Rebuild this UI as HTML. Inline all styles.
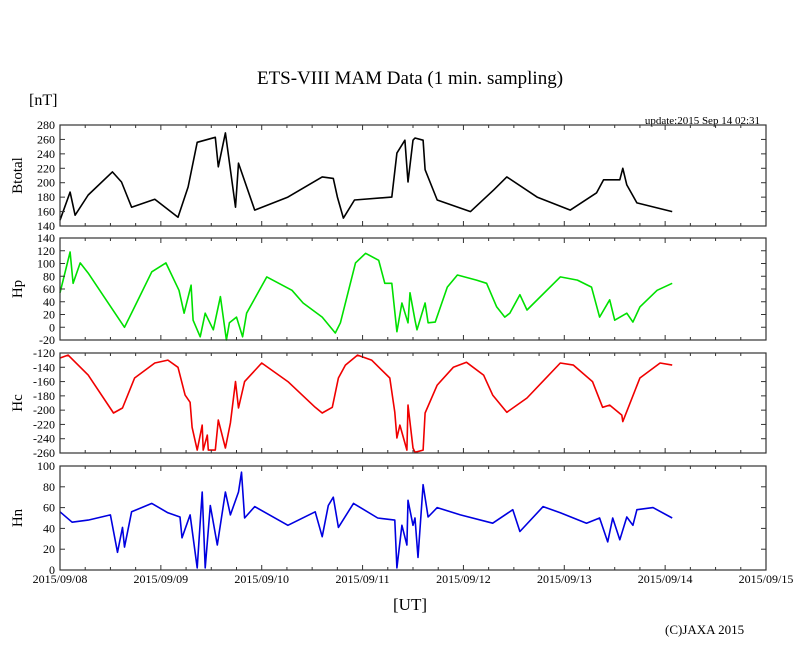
<!DOCTYPE html>
<html><head><meta charset="utf-8"><style>
html,body{margin:0;padding:0;background:#fff}
svg{display:block;font-family:"Liberation Serif",serif}
</style></head><body>
<svg id="chart" width="810" height="655" viewBox="0 0 810 655" xmlns="http://www.w3.org/2000/svg">
<text x="410" y="84" font-size="19" text-anchor="middle">ETS-VIII MAM Data (1 min. sampling)</text>
<text x="29" y="105" font-size="16">[nT]</text>
<text x="760" y="124" font-size="11" text-anchor="end">update:2015 Sep 14 02:31</text>
<text x="410" y="610" font-size="17" text-anchor="middle">[UT]</text>
<text x="665" y="634" font-size="13">(C)JAXA 2015</text>
<g id="plots"></g>
</svg>
<script>
const xDays = [0,1,2,3,4,5,6,7];
const xTickLabels = ["2015/09/08","2015/09/09","2015/09/10","2015/09/11","2015/09/12","2015/09/13","2015/09/14","2015/09/15"];

const btotalDays = [0,.1,.15,.28,.52,.61,.71,.94,1.17,1.27,1.36,1.54,1.57,1.64,1.74,1.77,1.93,2.26,2.6,2.71,2.75,2.81,2.92,3.29,3.34,3.42,3.45,3.5,3.52,3.6,3.62,3.74,4.07,4.3,4.43,4.73,5.06,5.32,5.39,5.55,5.58,5.62,5.72,6.07];
const btotalVals = [148,187,155,183,215,201,166,177,152,194,256,263,222,269,166,227,162,180,208,206,180,151,176,180,241,259,201,259,262,259,218,176,160,190,208,180,162,186,204,204,220,197,172,160];

const hpDays = [0,.1,.13,.2,.28,.44,.64,.74,.91,1.05,1.18,1.23,1.3,1.32,1.39,1.44,1.52,1.59,1.65,1.68,1.75,1.81,1.85,2.05,2.3,2.41,2.6,2.73,2.78,2.93,3.03,3.16,3.22,3.29,3.34,3.39,3.45,3.47,3.52,3.54,3.62,3.65,3.72,3.84,3.94,4.13,4.23,4.33,4.41,4.46,4.56,4.63,4.96,5.13,5.27,5.35,5.45,5.5,5.62,5.68,5.75,5.92,6.07];
const hpVals = [54,118,69,101,85,47,0,32,87,101,58,22,66,11,-15,22,-4,48,-20,7,16,-15,22,79,58,38,16,-9,7,101,116,105,69,69,-7,38,7,54,11,-4,38,7,8,63,82,74,69,32,16,22,51,27,79,74,63,16,43,11,22,8,32,58,69];

const hcDays = [0,.08,.28,.53,.62,.74,.94,1.07,1.17,1.24,1.29,1.31,1.36,1.41,1.42,1.46,1.47,1.54,1.57,1.64,1.69,1.74,1.77,1.83,2.0,2.26,2.53,2.6,2.7,2.76,2.83,2.95,3.09,3.27,3.32,3.34,3.37,3.44,3.45,3.5,3.52,3.6,3.62,3.74,3.9,4.03,4.2,4.29,4.43,4.63,4.96,5.09,5.28,5.38,5.45,5.57,5.58,5.75,5.95,6.07];
const hcVals = [-127,-123,-151,-204,-197,-155,-134,-130,-140,-179,-189,-224,-256,-221,-256,-235,-256,-256,-214,-253,-218,-160,-197,-160,-134,-160,-196,-204,-196,-155,-137,-123,-130,-155,-203,-239,-221,-256,-193,-253,-259,-256,-204,-165,-140,-133,-151,-179,-203,-183,-134,-137,-160,-196,-193,-207,-216,-155,-134,-137];

const hnDays = [0,.12,.28,.5,.57,.62,.64,.71,.91,1.07,1.19,1.21,1.29,1.36,1.41,1.44,1.49,1.56,1.64,1.69,1.77,1.8,1.83,1.93,2.26,2.53,2.6,2.66,2.71,2.76,2.91,3.15,3.32,3.34,3.39,3.44,3.45,3.5,3.52,3.55,3.6,3.65,3.74,3.97,4.29,4.49,4.56,4.79,4.96,5.22,5.35,5.43,5.48,5.55,5.62,5.68,5.72,5.88,6.07];
const hnVals = [56,46,48,53,17,41,22,56,64,55,51,31,53,2,75,2,62,24,75,53,75,94,50,61,43,56,32,62,70,41,64,50,48,2,43,24,67,43,50,12,82,51,60,53,45,58,37,61,55,45,50,27,50,29,51,43,58,60,50];

const btotalTicks = [140,160,180,200,220,240,260,280];
const hpTicks = [-20,0,20,40,60,80,100,120,140];
const hcTicks = [-260,-240,-220,-200,-180,-160,-140,-120];
const hnTicks = [0,20,40,60,80,100];

const NS = "http://www.w3.org/2000/svg";
const X0 = 60, X1 = 766;
const xScale = d => X0 + d / 7 * (X1 - X0);
const plots = document.getElementById('plots');
function mk(tag, attrs, parent) {
  const e = document.createElementNS(NS, tag);
  for (const k in attrs) e.setAttribute(k, attrs[k]);
  parent.appendChild(e);
  return e;
}
const panels = [
  {key:'btotal', label:'Btotal', top:125, bot:226, ticks:btotalTicks, days:btotalDays, vals:btotalVals, color:'#000'},
  {key:'hp', label:'Hp', top:238, bot:340, ticks:hpTicks, days:hpDays, vals:hpVals, color:'#00e000'},
  {key:'hc', label:'Hc', top:353, bot:453, ticks:hcTicks, days:hcDays, vals:hcVals, color:'#f00000'},
  {key:'hn', label:'Hn', top:466, bot:570, ticks:hnTicks, days:hnDays, vals:hnVals, color:'#0000e0'}
];
panels.forEach((p, pi) => {
  const g = mk('g', {}, plots);
  
  
  const lo = p.ticks[0], hi = p.ticks[p.ticks.length - 1];
  const yScale = v => p.bot - (v - lo) / (hi - lo) * (p.bot - p.top);
  // series
  const pts = p.days.map((d, i) => xScale(d).toFixed(1) + ',' + yScale(p.vals[i]).toFixed(1)).join(' ');
  const line = mk('polyline', {points: pts, fill: 'none', stroke: p.color, 'stroke-width': 1.6, 'stroke-linejoin': 'round'}, g);
  
  
  // frame
  const fr = mk('rect', {x: X0, y: p.top, width: X1 - X0, height: p.bot - p.top, fill: 'none', stroke: '#333', 'stroke-width': 1.2}, g);
  
  
  // y ticks
  p.ticks.forEach(t => {
    const y = yScale(t);
    mk('line', {x1: X0, x2: X0 + 5, y1: y, y2: y, stroke: '#333'}, g);
    mk('line', {x1: X1 - 5, x2: X1, y1: y, y2: y, stroke: '#333'}, g);
    const tl = mk('text', {x: 55, y: y + 4, 'font-size': 12, 'text-anchor': 'end'}, g);
    
    
    tl.textContent = t;
  });
  // x ticks (6h minor)
  for (let h = 0; h <= 28; h++) {
    const x = xScale(h / 4);
    const len = h % 4 === 0 ? 5 : 3;
    mk('line', {x1: x, x2: x, y1: p.top, y2: p.top + len, stroke: '#333'}, g);
    mk('line', {x1: x, x2: x, y1: p.bot, y2: p.bot - len, stroke: '#333'}, g);
  }
  // y label
  const yl = mk('text', {x: 0, y: 0, 'font-size': 15, 'text-anchor': 'middle', transform: 'translate(22,' + ((p.top + p.bot) / 2) + ') rotate(-90)'}, g);
  
  
  yl.textContent = p.label;
});
xDays.forEach((d, i) => {
  const t = mk('text', {x: xScale(d), y: 583, 'font-size': 12, 'text-anchor': 'middle'}, plots);
  
  
  t.textContent = xTickLabels[i];
});
</script>
</body></html>
